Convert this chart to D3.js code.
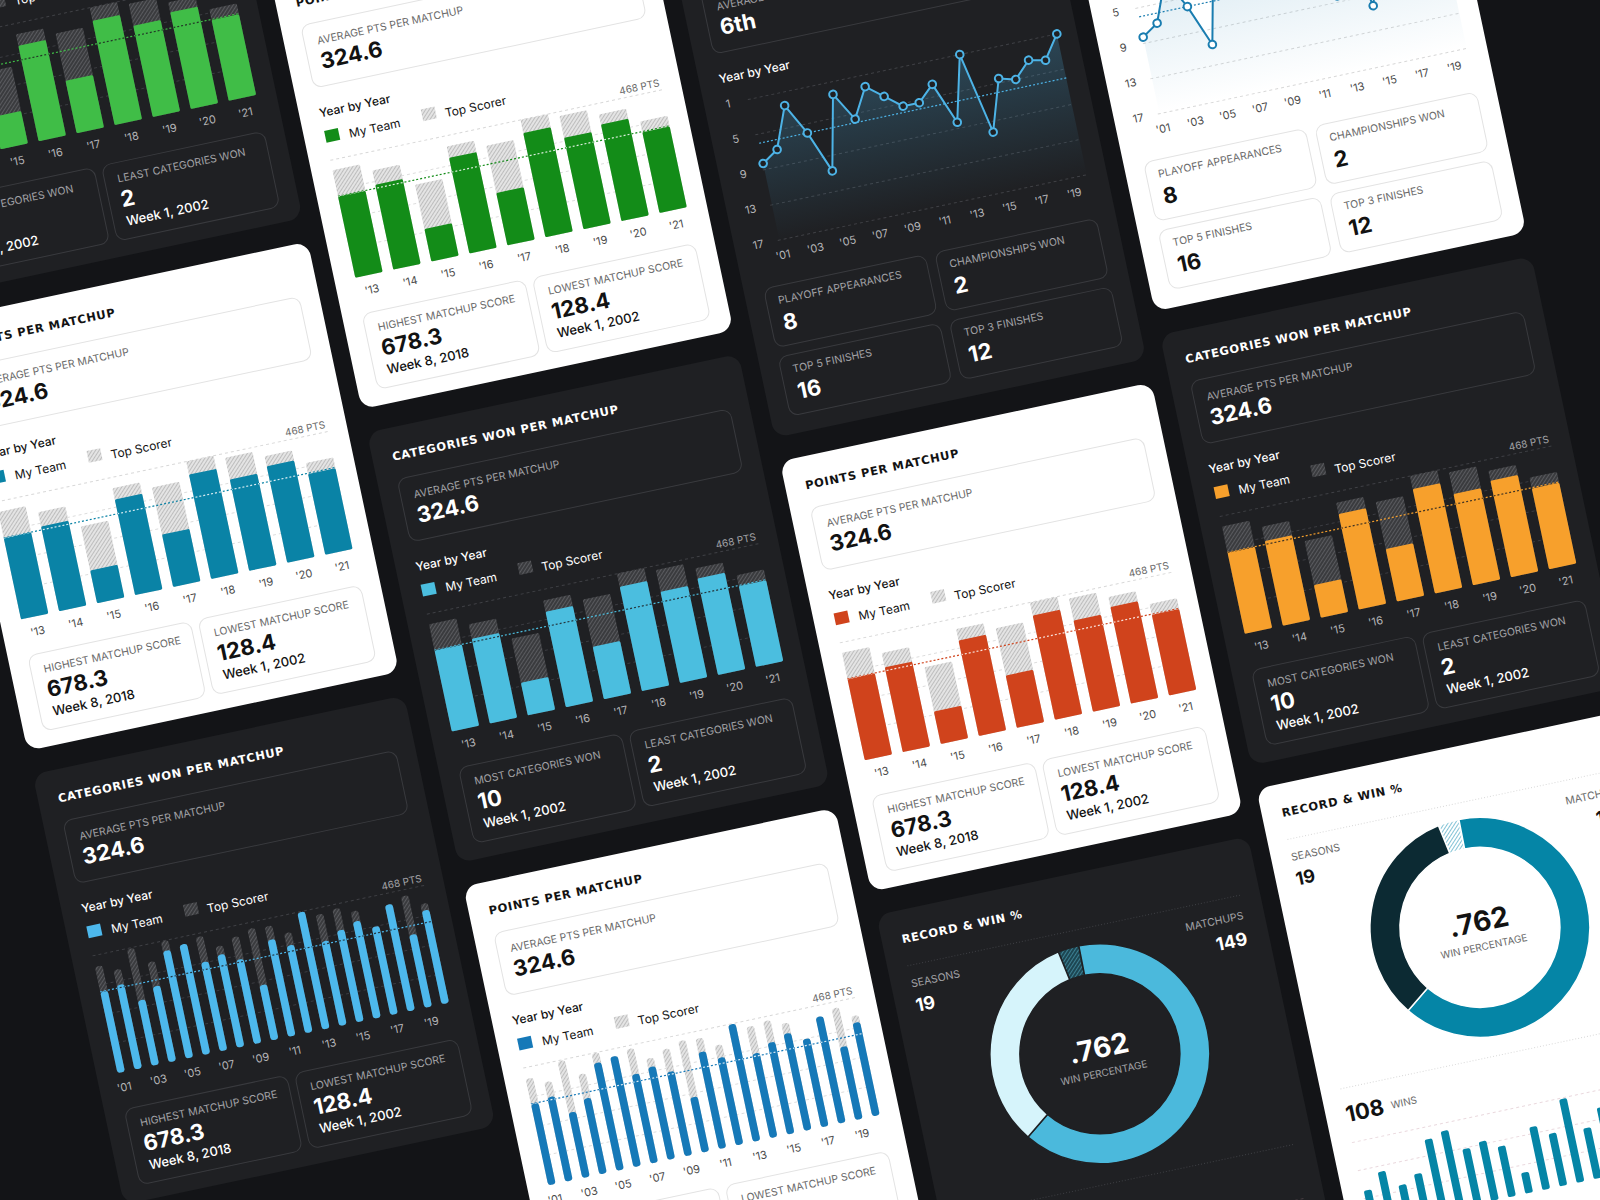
<!DOCTYPE html>
<html>
<head>
<meta charset="utf-8">
<script src="https://cdn.jsdelivr.net/npm/d3@7"></script>
<style>
  html, body { margin: 0; padding: 0; background: #131417; }
  svg { display: block; }
</style>
</head>
<body>
<div id="chart"></div>
<script>
// ---- data ----
const years9 = ["'13", "'14", "'15", "'16", "'17", "'18", "'19", "'20", "'21"];
const myTeam9 = [324, 338, 130, 381, 209, 416, 364, 385, 322];
const topScorer9 = [428, 395, 306, 426, 397, 468, 451, 425, 365];

const years20 = ["'01", "'02", "'03", "'04", "'05", "'06", "'07", "'08", "'09", "'10",
                 "'11", "'12", "'13", "'14", "'15", "'16", "'17", "'18", "'19", "'20"];
const myTeam20 = [324, 336, 260, 301, 428, 439, 354, 369, 335, 219, 385, 348, 466, 336, 365, 386, 350, 424, 290, 372];
const topScorer20 = [424, 396, 465, 398, 467, 439, 455, 403, 425, 444, 439, 398, 466, 443, 451, 427, 350, 424, 444, 399];

const finishRank = [8.3, 7.1, 2.5, 6, 10.7, 2.4, 5.6, 2.3, 3.8, 5.3, 5.3, 3.6, 8.3, 1, 10.2, 4.5, 5, 3.2, 3.6, 1];
const rankTicks = [1, 5, 9, 13, 17];
const avgFinish = 6;

const recordParts = ["Ties", "Wins", "Losses"];
const recordShare = [3.1, 64.4, 32.5];
const winsPerSeason = [3.8, 5.4, 3.6, 4.4, 7.7, 8.2, 5.9, 6.3, 5.4, 2.2, 6.7, 5.6, 8.9, 5.4, 7.2, 6.1, 7.6, 5.2, 6.6];

const avgPts = 324.6;
const maxPts = 468;
const ptsBoxes = [["HIGHEST MATCHUP SCORE", "678.3", "Week 8, 2018"], ["LOWEST MATCHUP SCORE", "128.4", "Week 1, 2002"]];
const catBoxes = [["MOST CATEGORIES WON", "10", "Week 1, 2002"], ["LEAST CATEGORIES WON", "2", "Week 1, 2002"]];
const finishStats = [["PLAYOFF APPEARANCES", "8"], ["CHAMPIONSHIPS WON", "2"], ["TOP 5 FINISHES", "16"], ["TOP 3 FINISHES", "12"]];

// ---- setup ----
const W = 1600, H = 1200;
const BODY = "Inter, 'Noto Sans', sans-serif";
const HEAD = "'DejaVu Sans', Inter, sans-serif";
const colX = [-787, -389, 9, 407];

const svg = d3.select("#chart").append("svg").attr("width", W).attr("height", H);
svg.append("rect").attr("width", W).attr("height", H).attr("fill", "#131417");
const defs = svg.append("defs");

function hatch(id, base, stripe) {
    const p = defs.append("pattern").attr("id", id)
        .attr("patternUnits", "userSpaceOnUse")
        .attr("width", 3).attr("height", 3)
        .attr("patternTransform", "rotate(45)");
    p.append("rect").attr("width", 3).attr("height", 3).attr("fill", base);
    p.append("line").attr("x1", 0).attr("y1", 0).attr("x2", 0).attr("y2", 3)
        .attr("stroke", stripe).attr("stroke-width", 1.3);
}
hatch("hatchLight", "#e4e4e4", "#a8a8a8");
hatch("hatchDark", "#3a3b3e", "#6c6d71");
hatch("hatchTealDark", "#1d4652", "#4d9fb6");
hatch("hatchTealLight", "#ffffff", "#3fa3c0");

const themes = {
    dark: { card: "#1f2023", text: "#ffffff", label: "#a2a2a6", box: "#393a3e", grid: "#3f4045", axis: "#b5b5b8", hatch: "hatchDark" },
    light: { card: "#ffffff", text: "#121212", label: "#6a6a6a", box: "#e3e3e3", grid: "#d8d8d8", axis: "#4a4a4a", hatch: "hatchLight" }
};

const world = svg.append("g").attr("transform", "rotate(-12,800,600)");
let uid = 0;

function txt(g, x, y, s, size, weight, fill, anchor) {
    return g.append("text").attr("x", x).attr("y", y)
        .attr("font-family", BODY).attr("font-size", size).attr("font-weight", weight)
        .attr("fill", fill).attr("text-anchor", anchor || "start").text(s);
}

function cardBase(o, h) {
    const th = o.dark ? themes.dark : themes.light;
    const g = world.append("g").attr("transform", `translate(${800 + o.x},${600 + o.y})`);
    g.append("rect").attr("width", 380).attr("height", h).attr("rx", 14).attr("fill", th.card);
    g.append("text").attr("x", 20).attr("y", 33)
        .attr("font-family", HEAD).attr("font-weight", "bold").attr("font-size", 11.5)
        .attr("letter-spacing", 0.7).attr("fill", th.text).text(o.title);
    return { g, th };
}

function avgBox(g, th, label, value) {
    g.append("rect").attr("x", 20).attr("y", 52).attr("width", 340).attr("height", 64).attr("rx", 9)
        .attr("fill", "none").attr("stroke", th.box);
    txt(g, 33, 74, label, 10.5, 400, th.label);
    txt(g, 32, 99, value, 22, 700, th.text);
}

function styleAxis(ax, th) {
    ax.select(".domain").remove();
    ax.selectAll("text").attr("font-family", BODY).attr("font-size", 11).attr("fill", th.axis);
}

// ---- bar card ----
function barCard(o) {
    const { g, th } = cardBase(o, 440);
    avgBox(g, th, "AVERAGE PTS PER MATCHUP", avgPts.toFixed(1));

    txt(g, 20, 146, "Year by Year", 12, 500, th.text);
    g.append("rect").attr("x", 21).attr("y", 160).attr("width", 14).attr("height", 12).attr("fill", o.color);
    txt(g, 45, 172, "My Team", 12, 400, th.text);
    g.append("rect").attr("x", 120).attr("y", 159).attr("width", 14).attr("height", 12).attr("fill", `url(#${th.hatch})`);
    txt(g, 143, 172, "Top Scorer", 12, 400, th.text);

    const many = o.years.length > 10;
    const rows = o.years.map((yr, i) => ({ yr, mine: o.mine[i], top: o.top[i] }));
    const x = d3.scaleBand().domain(o.years).range([21, 360]).paddingInner(many ? 0.56 : 0.28).paddingOuter(0);
    const y = d3.scaleLinear().domain([0, maxPts]).range([310, 190]);
    const r = many ? 3 : 1.5;

    g.selectAll(".grid").data([117, 234, 351]).join("line")
        .attr("x1", 21).attr("x2", 360).attr("y1", d => y(d)).attr("y2", d => y(d))
        .attr("stroke", th.grid).attr("stroke-dasharray", "3,3").attr("stroke-width", 0.8);
    g.append("line").attr("x1", 21).attr("x2", 360).attr("y1", y(maxPts)).attr("y2", y(maxPts))
        .attr("stroke", th.grid).attr("stroke-dasharray", "3,3");
    txt(g, 359, 186, `${maxPts} PTS`, 10, 400, th.label, "end");

    g.selectAll(".top").data(rows).join("rect")
        .attr("x", d => x(d.yr)).attr("width", x.bandwidth())
        .attr("y", d => y(d.top)).attr("height", d => y(0) - y(d.top))
        .attr("rx", r).attr("fill", `url(#${th.hatch})`);
    g.selectAll(".mine").data(rows).join("rect")
        .attr("x", d => x(d.yr)).attr("width", x.bandwidth())
        .attr("y", d => y(d.mine)).attr("height", d => y(0) - y(d.mine))
        .attr("rx", r).attr("fill", o.color);

    // average line: bar colour in the gaps, card colour across the bars
    const cid = "clip" + (uid++);
    defs.append("clipPath").attr("id", cid).selectAll("rect").data(rows).join("rect")
        .attr("x", d => x(d.yr)).attr("width", x.bandwidth())
        .attr("y", d => y(d.mine)).attr("height", d => y(0) - y(d.mine));
    g.append("line").attr("x1", 21).attr("x2", 360).attr("y1", y(avgPts)).attr("y2", y(avgPts))
        .attr("stroke", o.color).attr("stroke-width", 1.2).attr("stroke-dasharray", "2,2");
    g.append("line").attr("x1", 21).attr("x2", 360).attr("y1", y(avgPts)).attr("y2", y(avgPts))
        .attr("stroke", th.card).attr("stroke-opacity", 0.85).attr("stroke-width", 1.2)
        .attr("stroke-dasharray", "2,2").attr("clip-path", `url(#${cid})`);

    const ax = g.append("g").attr("transform", `translate(0,${y(0)})`)
        .call(d3.axisBottom(x).tickSize(0).tickPadding(11)
            .tickValues(o.years.filter((d, i) => !many || i % 2 === 0)));
    styleAxis(ax, th);

    o.boxes.forEach((b, i) => {
        const bx = i === 0 ? 20 : 194;
        g.append("rect").attr("x", bx).attr("y", 347).attr("width", 166).attr("height", 77).attr("rx", 9)
            .attr("fill", "none").attr("stroke", th.box);
        txt(g, bx + 13, 367, b[0], 10.5, 400, th.label);
        txt(g, bx + 12, 392, b[1], 22, 700, th.text);
        txt(g, bx + 13, 411, b[2], 13, 500, th.text);
    });
}

// ---- finish line card ----
function lineCard(o) {
    const { g, th } = cardBase(o, 504);
    avgBox(g, th, "AVERAGE FINISH", "6th");
    txt(g, 20, 146, "Year by Year", 12, 500, th.text);

    const rows = years20.map((yr, i) => ({ yr, rank: finishRank[i] }));
    const x = d3.scalePoint().domain(years20).range([45.7, 359.9]);
    const y = d3.scaleLinear().domain([1, 17]).range([167.5, 311.5]);

    g.selectAll(".grid").data(rankTicks).join("line")
        .attr("x1", 44).attr("x2", 362).attr("y1", d => y(d)).attr("y2", d => y(d))
        .attr("stroke", th.grid).attr("stroke-dasharray", "3,3");
    g.selectAll(".ylab").data(rankTicks).join("text")
        .attr("x", 24).attr("y", d => y(d)).attr("dy", "0.35em").attr("text-anchor", "middle")
        .attr("font-family", BODY).attr("font-size", 11).attr("fill", th.axis).text(d => d);

    const gid = "grad" + (uid++);
    const grad = defs.append("linearGradient").attr("id", gid).attr("x1", 0).attr("y1", 0).attr("x2", 0).attr("y2", 1);
    grad.append("stop").attr("offset", "0%").attr("stop-color", o.color).attr("stop-opacity", o.dark ? 0.26 : 0.16);
    grad.append("stop").attr("offset", "100%").attr("stop-color", o.color).attr("stop-opacity", 0);

    g.append("path").datum(rows)
        .attr("d", d3.area().x(d => x(d.yr)).y0(y(17)).y1(d => y(d.rank)))
        .attr("fill", `url(#${gid})`);
    g.append("line").attr("x1", 46).attr("x2", 360).attr("y1", y(avgFinish)).attr("y2", y(avgFinish))
        .attr("stroke", o.color).attr("stroke-width", 1.2).attr("stroke-dasharray", "2,2");
    g.append("path").datum(rows)
        .attr("d", d3.line().x(d => x(d.yr)).y(d => y(d.rank)))
        .attr("fill", "none").attr("stroke", o.color).attr("stroke-width", 2);
    g.selectAll(".pt").data(rows).join("circle")
        .attr("cx", d => x(d.yr)).attr("cy", d => y(d.rank)).attr("r", 3.8)
        .attr("fill", th.card).attr("stroke", o.color).attr("stroke-width", 2);

    const ax = g.append("g").attr("transform", `translate(0,${y(17)})`)
        .call(d3.axisBottom(x).tickSize(0).tickPadding(11.3)
            .tickValues(years20.filter((d, i) => i % 2 === 0)));
    styleAxis(ax, th);

    finishStats.forEach((s, i) => {
        const bx = i % 2 === 0 ? 20 : 195, by = i < 2 ? 356 : 426;
        g.append("rect").attr("x", bx).attr("y", by).attr("width", 165).attr("height", 60).attr("rx", 9)
            .attr("fill", "none").attr("stroke", th.box);
        txt(g, bx + 12, by + 18, s[0], 10.5, 400, th.label);
        txt(g, bx + 12, by + 45, s[1], 22, 700, th.text);
    });
}

// ---- record card ----
function recordCard(o) {
    const { g, th } = cardBase(o, 640);
    [56, 311].forEach(yy => g.append("line").attr("x1", 20).attr("x2", 360).attr("y1", yy).attr("y2", yy)
        .attr("stroke", th.grid).attr("stroke-dasharray", "1,2"));

    txt(g, 20, 78, "SEASONS", 10.5, 400, th.label);
    txt(g, 20, 103, "19", 18, 700, th.text);
    txt(g, 359, 80, "MATCHUPS", 10.5, 400, th.label, "end");
    txt(g, 358, 106, "149", 18, 700, th.text, "end");

    const a0 = -10.2 * Math.PI / 180;
    const pie = d3.pie().sort(null).startAngle(a0).endAngle(a0 + 2 * Math.PI);
    const arc = d3.arc().innerRadius(80).outerRadius(110);
    const dg = g.append("g").attr("transform", "translate(190,182)");
    dg.selectAll("path").data(pie(recordShare)).join("path")
        .attr("d", arc).attr("fill", (d, i) => o.slices[i])
        .attr("stroke", th.card).attr("stroke-width", 1.5);
    txt(g, 190, 186, ".762", 28, 700, th.text, "middle");
    txt(g, 190, 205, "WIN PERCENTAGE", 10, 400, th.label, "middle");

    txt(g, 20, 345, "108", 22, 700, th.text);
    txt(g, 66, 341, "WINS", 10, 400, th.label);

    const seasons = winsPerSeason.map((v, i) => ({ i, v }));
    const x = d3.scaleBand().domain(seasons.map(d => d.i)).range([16.75, 349.25]).paddingInner(0.55).paddingOuter(0.275);
    const y = d3.scaleLinear().domain([0, 9]).range([452, 365.9]);
    g.selectAll(".wgrid").data([3, 6, 9]).join("line")
        .attr("x1", 20).attr("x2", 360).attr("y1", d => y(d)).attr("y2", d => y(d))
        .attr("stroke", o.dark ? "#4a3f44" : "#ead9de").attr("stroke-dasharray", "3,3");
    g.selectAll(".wbar").data(seasons).join("rect")
        .attr("x", d => x(d.i)).attr("width", x.bandwidth())
        .attr("y", d => y(d.v)).attr("height", d => y(0) - y(d.v))
        .attr("rx", 2).attr("fill", o.slices[1]);
}

// ---- layout ----
barCard({ x: colX[0], y: -917, dark: true, color: "#40bd47", title: "CATEGORIES WON PER MATCHUP", years: years9, mine: myTeam9, top: topScorer9, boxes: catBoxes });
barCard({ x: colX[0], y: -453, dark: false, color: "#0a83a6", title: "POINTS PER MATCHUP", years: years9, mine: myTeam9, top: topScorer9, boxes: ptsBoxes });
barCard({ x: colX[0], y: 11, dark: true, color: "#4db8ec", title: "CATEGORIES WON PER MATCHUP", years: years20, mine: myTeam20, top: topScorer20, boxes: ptsBoxes });

barCard({ x: colX[1], y: -717.7, dark: false, color: "#138c18", title: "POINTS PER MATCHUP", years: years9, mine: myTeam9, top: topScorer9, boxes: ptsBoxes });
barCard({ x: colX[1], y: -253.7, dark: true, color: "#4bbedf", title: "CATEGORIES WON PER MATCHUP", years: years9, mine: myTeam9, top: topScorer9, boxes: catBoxes });
barCard({ x: colX[1], y: 210.3, dark: false, color: "#1679b8", title: "POINTS PER MATCHUP", years: years20, mine: myTeam20, top: topScorer20, boxes: ptsBoxes });

lineCard({ x: colX[2], y: -667.8, dark: true, color: "#4db3e6", title: "LEAGUE FINISH" });
barCard({ x: colX[2], y: -139.8, dark: false, color: "#d0431c", title: "POINTS PER MATCHUP", years: years9, mine: myTeam9, top: topScorer9, boxes: ptsBoxes });
recordCard({ x: colX[2], y: 324.2, dark: true, title: "RECORD & WIN %", slices: ["url(#hatchTealDark)", "#4bb9dc", "#d6f4fb"] });

lineCard({ x: colX[3], y: -712.4, dark: false, color: "#1a7db0", title: "LEAGUE FINISH" });
barCard({ x: colX[3], y: -184.4, dark: true, color: "#f7a02c", title: "CATEGORIES WON PER MATCHUP", years: years9, mine: myTeam9, top: topScorer9, boxes: catBoxes });
recordCard({ x: colX[3], y: 279.6, dark: false, title: "RECORD & WIN %", slices: ["url(#hatchTealLight)", "#0585a6", "#0c2a33"] });
</script>
</body>
</html>
